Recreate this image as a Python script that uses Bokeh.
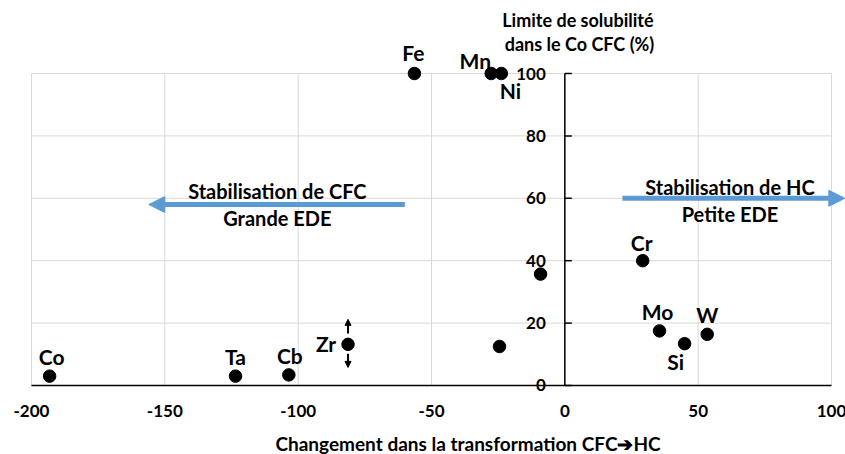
from bokeh.plotting import figure
from bokeh.models import (ColumnDataSource, LabelSet, Label, Arrow, NormalHead, Range1d)
from bokeh.core.properties import value
from bokeh.embed import file_html
from bokeh.resources import INLINE

# ---- data ----
elements = ["Co", "Ta", "Cb", "Zr", "Fe", "Mn", "Ni", "", "", "Cr", "Mo", "Si", "W"]
energy_change = [-193.2, -123.5, -103.5, -81.3, -56.4, -27.6, -23.8, -24.5, -9.1, 29.2, 35.5, 44.9, 53.4]
solubility = [3.0, 3.0, 3.4, 13.2, 100, 100, 100, 12.5, 35.7, 40.0, 17.5, 13.4, 16.4]
x_ticks = [-200, -150, -100, -50, 0, 50, 100]
x_tick_labels = ["-200", "-150", "-100", "-50", "0", "50", "100"]
y_ticks = [0, 20, 40, 60, 80, 100]
y_tick_labels = ["0", "20", "40", "60", "80", "100"]
x_title = "Changement dans la transformation CFC\u2794HC"
y_title = ["Limite de solubilité", "dans le Co CFC (%)"]
left_note = ["Stabilisation de CFC", "Grande EDE"]
right_note = ["Stabilisation de HC", "Petite EDE"]

# ---- styling / layout ----
FONT = "Lato"
BLUE = "#5b9bd5"
GRID = "#d9d9d9"
label_dx = [2, 0, 1, -22, -1, -16, 9, 0, 0, -1, -2, -9, 0]
label_dy = [20, 20, 19, 1, 21, 13, -17, 0, 0, 18, 19, -18, 20]

p = figure(width=845, height=454, output_backend="svg", toolbar_location=None,
           x_range=Range1d(-211.625, 105.25), y_range=Range1d(-22.12, 123.4),
           x_axis_location=None, y_axis_location=None,
           min_border=0, min_border_left=0, min_border_right=0,
           min_border_top=0, min_border_bottom=0)
p.outline_line_color = None
p.grid.visible = False
p.background_fill_color = "white"

x0, x1 = x_ticks[0], x_ticks[-1]
y0, y1 = y_ticks[0], y_ticks[-1]

# grid lines
p.segment(x0=x_ticks, y0=[y0] * len(x_ticks), x1=x_ticks, y1=[y1] * len(x_ticks),
          line_color=GRID, line_width=1)
p.segment(x0=[x0] * (len(y_ticks) - 1), y0=y_ticks[1:], x1=[x1] * (len(y_ticks) - 1),
          y1=y_ticks[1:], line_color=GRID, line_width=1)

# x axis (at y = 0)
p.segment(x0=[x0], y0=[y0], x1=[x1], y1=[y0], line_color="black", line_width=1.5)
xsrc = ColumnDataSource(dict(x=x_ticks, y=[y0] * len(x_ticks), t=x_tick_labels))
p.add_layout(LabelSet(x="x", y="y", text="t", source=xsrc, y_offset=-26,
                      text_align="center", text_baseline="middle",
                      text_font=value(FONT), text_font_style="bold", text_font_size="17px",
                      text_color="black"))

# y axis (at x = 0)
p.segment(x0=[0], y0=[y0], x1=[0], y1=[y1], line_color="black", line_width=1.5)
p.segment(x0=[0] * len(y_ticks), y0=y_ticks, x1=[2.6] * len(y_ticks), y1=y_ticks,
          line_color="black", line_width=1.5)
ysrc = ColumnDataSource(dict(x=[0] * len(y_ticks), y=y_ticks, t=y_tick_labels))
p.add_layout(LabelSet(x="x", y="y", text="t", source=ysrc, x_offset=-19,
                      text_align="right", text_baseline="middle",
                      text_font=value(FONT), text_font_style="bold", text_font_size="17px",
                      text_color="black"))

# points
src = ColumnDataSource(dict(x=energy_change, y=solubility, name=elements,
                            dx=label_dx, dy=label_dy))
p.scatter("x", "y", source=src, size=12.5, fill_color="black", line_color="black")
p.add_layout(LabelSet(x="x", y="y", text="name", source=src, x_offset="dx", y_offset="dy",
                      text_align="center", text_baseline="middle",
                      text_font=value(FONT), text_font_style="bold", text_font_size="21px",
                      text_color="black"))

# Zr double arrow
zx, zy = energy_change[3], solubility[3]
p.add_layout(Arrow(end=NormalHead(size=6, fill_color="black", line_color="black"),
                   x_start=zx, y_start=zy + 3.5, x_end=zx, y_end=zy + 8.0,
                   line_width=2, line_color="black"))
p.add_layout(Arrow(end=NormalHead(size=6, fill_color="black", line_color="black"),
                   x_start=zx, y_start=zy - 3.0, x_end=zx, y_end=zy - 7.4,
                   line_width=2, line_color="black"))

# big arrows
p.add_layout(Arrow(end=NormalHead(size=16, fill_color=BLUE, line_color=BLUE),
                   x_start=-60, y_start=58, x_end=-156, y_end=58,
                   line_width=5, line_color=BLUE))
p.add_layout(Arrow(end=NormalHead(size=16, fill_color=BLUE, line_color=BLUE),
                   x_start=21.6, y_start=60, x_end=105.0, y_end=60,
                   line_width=5, line_color=BLUE))

def txt(x, y, s, size):
    p.add_layout(Label(x=x, y=y, text=s, text_align="center", text_baseline="middle",
                       text_font=FONT, text_font_style="bold", text_font_size=size,
                       text_color="black"))

txt(-107.8, 62.2, left_note[0], "20px")
txt(-107.8, 53.8, left_note[1], "20px")
txt(61.9, 63.5, right_note[0], "20px")
txt(61.9, 55.1, right_note[1], "20px")
txt(4.9, 117.3, y_title[0], "18px")
txt(5.5, 109.4, y_title[1], "18px")
txt(-36.3, -18.6, x_title, "19px")

open("out.html", "w").write(file_html(p, INLINE))
